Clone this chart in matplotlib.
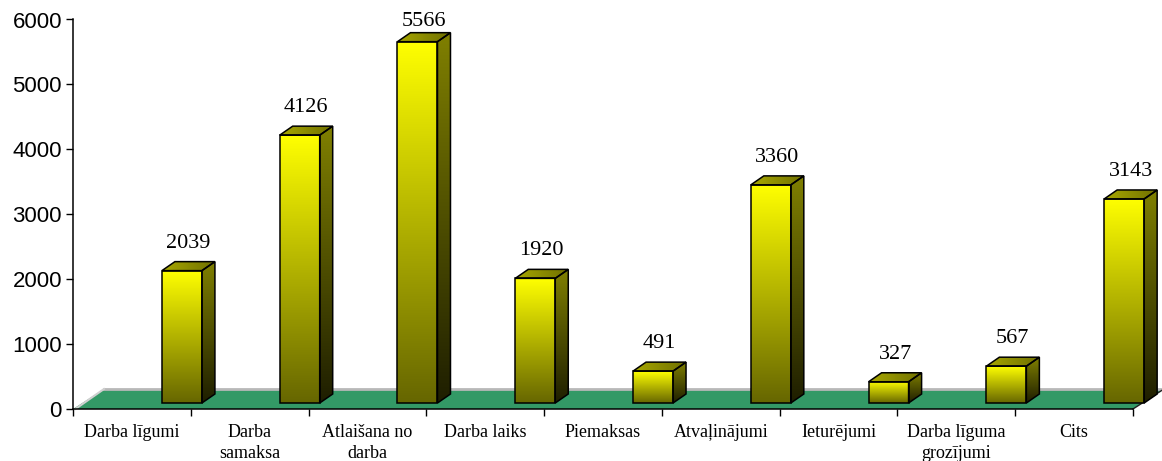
import numpy as np
import matplotlib
matplotlib.use("Agg")
import matplotlib.pyplot as plt
from matplotlib.patches import Polygon
from matplotlib.colors import LinearSegmentedColormap
from matplotlib.lines import Line2D

categories = ["Darba līgumi", "Darba\nsamaksa", "Atlaišana no\ndarba", "Darba laiks",
              "Piemaksas", "Atvaļinājumi", "Ieturējumi", "Darba līguma\ngrozījumi", "Cits"]
values = [2039, 4126, 5566, 1920, 491, 3360, 327, 567, 3143]
yticks = [0, 1000, 2000, 3000, 4000, 5000, 6000]

W, H = 1162, 461
fig = plt.figure(figsize=(W / 100, H / 100), dpi=100)
ax_l, ax_r, ax_b, ax_t = 73, 1133, 409, 19.5
ax = fig.add_axes([ax_l / W, (H - ax_b) / H, (ax_r - ax_l) / W, (ax_b - ax_t) / H])
n = len(categories)
ax.set_xlim(0, n)
ax.set_ylim(0, 6000)

px_x = (ax_r - ax_l) / n      # pixels per category
px_y = (ax_b - ax_t) / 6000   # pixels per unit

def ux(p):
    return p / px_x

def uy(p):
    return p / px_y

# floor
fdx, fdy = ux(31), uy(20)
floor = Polygon([(0, 0), (n, 0), (n + fdx, fdy), (fdx, fdy)], closed=True,
                facecolor="#339966", edgecolor="none", zorder=1, clip_on=False)
ax.add_patch(floor)
ax.add_line(Line2D([fdx, n + fdx], [fdy, fdy], color="#b8b8b8", lw=2, zorder=1.5, clip_on=False))
ax.add_line(Line2D([0.02, fdx], [0, fdy], color="#d0d0d0", lw=1.5, zorder=1.5, clip_on=False))
ax.add_line(Line2D([n, n + fdx], [0, fdy], color="#202020", lw=1, zorder=1.5, clip_on=False))

def grad_poly(pts, c0, c1, direction, z):
    cmap = LinearSegmentedColormap.from_list("g", [c0, c1])
    poly = Polygon(pts, closed=True, facecolor="none", edgecolor="black", lw=1.1,
                   zorder=z + 0.1, clip_on=False)
    ax.add_patch(poly)
    xs = [p[0] for p in pts]
    ys = [p[1] for p in pts]
    if direction == "v":
        data = np.linspace(0, 1, 256).reshape(-1, 1)
    else:
        data = np.linspace(0, 1, 256).reshape(1, -1)
    im = ax.imshow(data, cmap=cmap, extent=[min(xs), max(xs), min(ys), max(ys)],
                   origin="lower", aspect="auto", interpolation="bilinear", zorder=z)
    im.set_clip_path(poly)
    im.set_clip_box(fig.bbox)

off = 0.755
bw = ux(40)
bdx, bdy = ux(13), uy(9)
base = uy(6)
label_cap = uy(409 - 26)

for i, v in enumerate(values):
    x0 = i + off
    x1 = x0 + bw
    y0 = base
    y1 = base + v * 1.0
    # front face: olive at bottom -> yellow at top
    grad_poly([(x0, y0), (x1, y0), (x1, y1), (x0, y1)], "#666600", "#ffff00", "v", 3)
    # side face
    grad_poly([(x1, y0), (x1 + bdx, y0 + bdy), (x1 + bdx, y1 + bdy), (x1, y1)],
              "#1e1e00", "#808000", "v", 3)
    # top face
    grad_poly([(x0, y1), (x1, y1), (x1 + bdx, y1 + bdy), (x0 + bdx, y1 + bdy)],
              "#a8a800", "#707000", "h", 3)
    ly = min(y1 + bdy + uy(14), label_cap)
    ax.text(x0 + bw / 2 + bdx / 2, ly, str(v), ha="center", va="baseline",
            fontsize=16, family="Liberation Serif", zorder=5, clip_on=False)

ax.set_xlim(0, n)
ax.set_ylim(0, 6000)

for s in ["top", "right"]:
    ax.spines[s].set_visible(False)
for s in ["left", "bottom"]:
    ax.spines[s].set_color("black")
    ax.spines[s].set_linewidth(1.1)
    ax.spines[s].set_zorder(2)

ax.set_yticks(yticks)
ax.set_yticklabels([str(t) for t in yticks], family="Liberation Sans", fontsize=16)
ax.tick_params(axis="y", direction="out", length=5, width=1, pad=3)
ax.set_xticks(np.arange(0, n + 1))
ax.set_xticklabels([])
ax.tick_params(axis="x", which="major", direction="out", length=5, width=1)
ax.set_xticks(np.arange(n) + 0.5, minor=True)
ax.set_xticklabels(categories, minor=True, family="Liberation Serif", fontsize=13,
                   linespacing=1.25)
ax.tick_params(axis="x", which="minor", length=0, pad=11)
ax.patch.set_visible(False)

fig.savefig("out.png", dpi=100)
